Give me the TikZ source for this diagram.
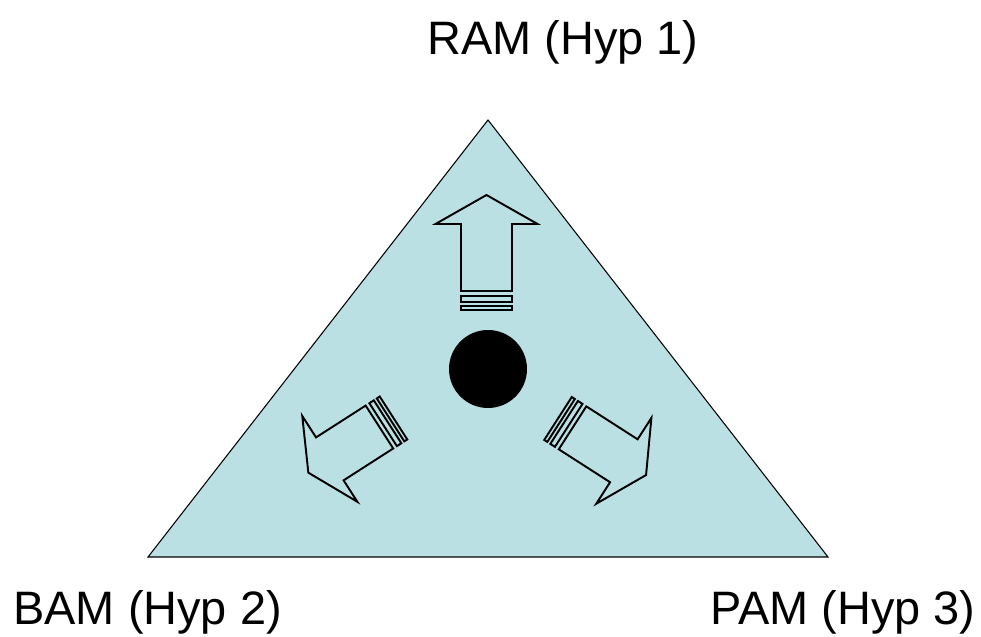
\documentclass[tikz,border=0pt]{standalone}
\usepackage{fontspec}
\setmainfont{Liberation Sans}
\begin{document}
\begin{tikzpicture}[x=0.02cm,y=0.02cm,
  lbl/.style={inner sep=0pt,anchor=base west,font=\fontsize{26.7pt}{30pt}\selectfont},
  tri/.style={draw=black,line width=0.6pt,fill=cyanfill},
  arr/.style={draw=black,line width=1.1pt,fill=cyanfill,line join=miter},
  pics/stripedarrow/.style={code={
    \draw[arr] (0,-25.5) rectangle (4,25.5);
    \draw[arr] (8,-25.5) rectangle (14,25.5);
    \draw[arr] (19,-25.5) -- (86,-25.5) -- (86,-51) -- (115,0) -- (86,51) -- (86,25.5) -- (19,25.5) -- cycle;
  }}]
\definecolor{cyanfill}{HTML}{BBE0E3}
\useasboundingbox (0,0) rectangle (981,636);
\fill[white] (0,0) rectangle (981,636);
\coordinate (apex) at (488,516);
\coordinate (bl) at (148,79);
\coordinate (br) at (828,79);
\draw[tri] (apex) -- (br) -- (bl) -- cycle;
\node[circle,fill=black,minimum size=1.56cm,inner sep=0pt] (dot) at (488,267) {};
\pic (up) at (486.5,326) [rotate=90] {stripedarrow};
\pic (left) at (393.5,218) [rotate=212.7,xscale=0.88] {stripedarrow};
\pic (right) at (558,217.5) [rotate=-32.7,xscale=0.91] {stripedarrow};
\node[lbl] (ram) at (427,581) {RAM (Hyp 1)};
\node[lbl] (bam) at (13,11) {BAM (Hyp 2)};
\node[lbl] (pam) at (710,11) {PAM (Hyp 3)};
\end{tikzpicture}
\end{document}
